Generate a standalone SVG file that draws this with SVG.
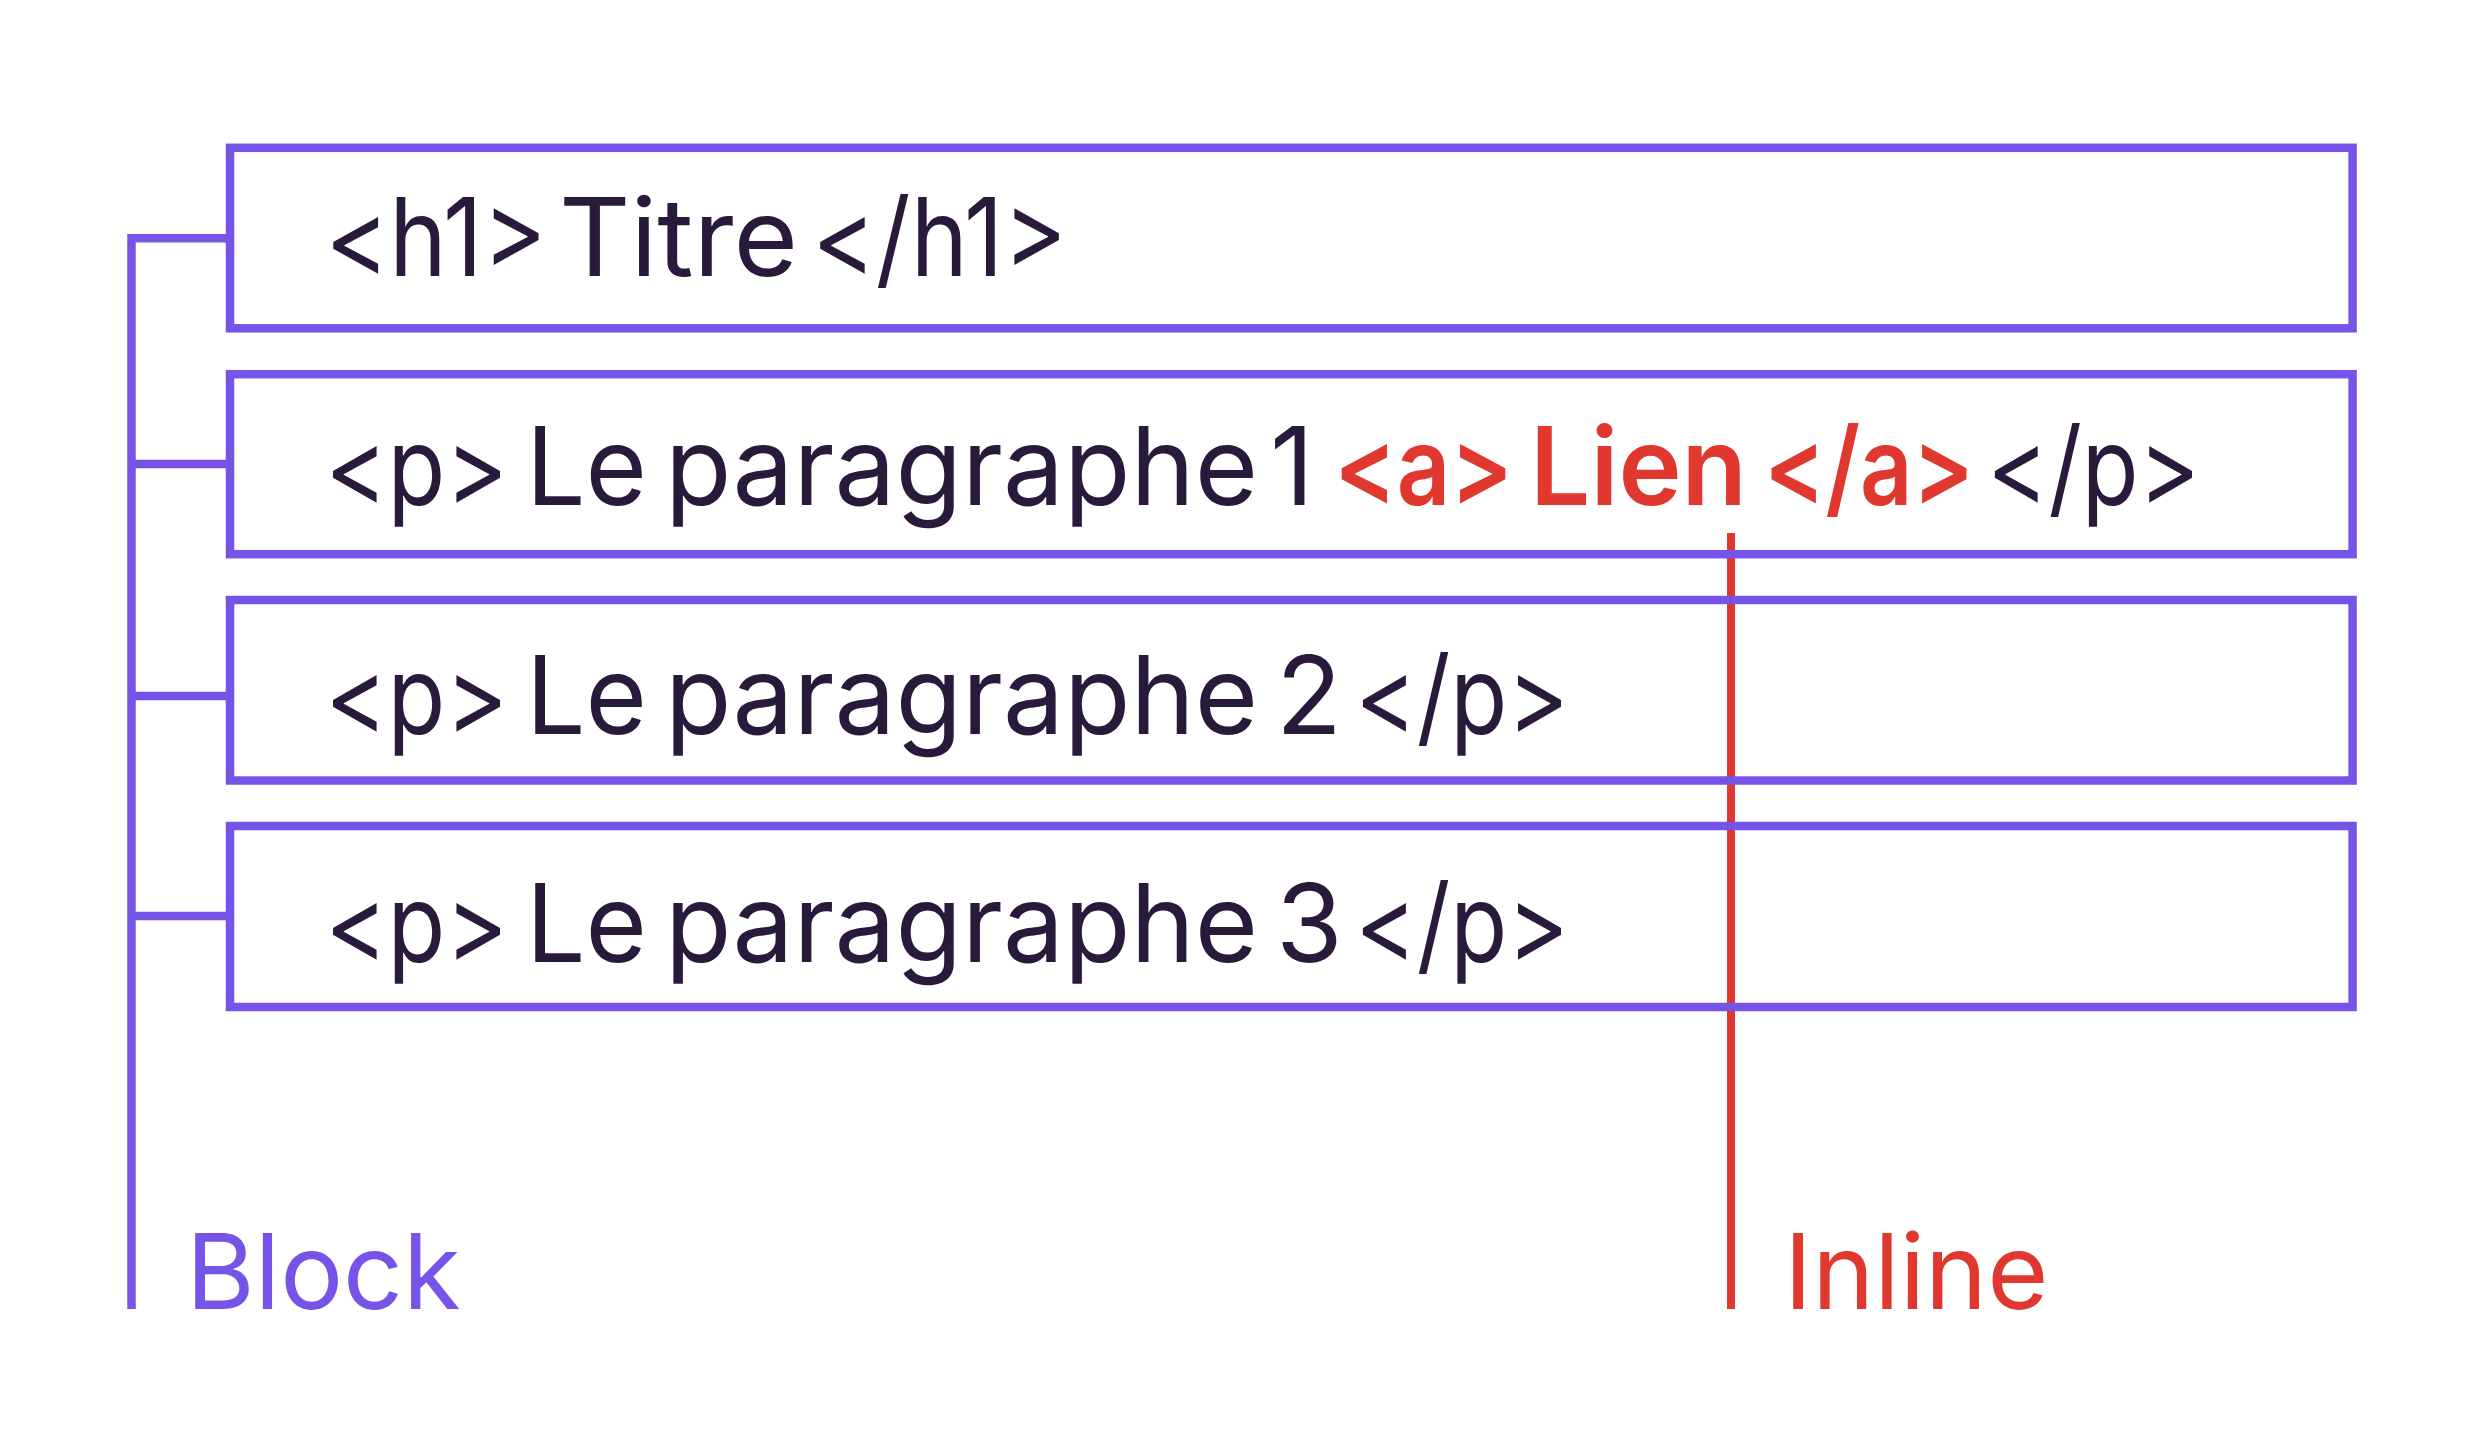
<svg xmlns="http://www.w3.org/2000/svg" width="2484" height="1431" viewBox="0 0 2484 1431">
<style>
.box{fill:none;stroke:#7654E8;stroke-width:8.5}
.conn{stroke:#7654E8;stroke-width:8.5;fill:none}
.connr{stroke:#E0372F;stroke-width:8;fill:none}
.t{font-family:Inter,"Liberation Sans",sans-serif;font-size:108px;fill:#29193A;word-spacing:-28px}
.r{fill:#E0372F;font-weight:600}
.lab{font-family:Inter,"Liberation Sans",sans-serif;font-size:105px}
</style>
<rect width="2484" height="1431" fill="#fff"/>
<g id="connectors">
<path class="conn" d="M131.5 234V1309"/>
<path class="conn" d="M131.5 238.3H230M131.5 464H230M131.5 696H230M131.5 916H230"/>
<path class="connr" d="M1731 533V1309"/>
</g>
<g id="h1">
<rect class="box" x="230" y="147.8" width="2122.6" height="180.5"/>
<text class="t" y="276"><tspan x="325" textLength="222" lengthAdjust="spacingAndGlyphs">&lt;h1&gt;</tspan> <tspan x="559" textLength="239" lengthAdjust="spacingAndGlyphs">Titre</tspan> <tspan x="812" textLength="255" lengthAdjust="spacingAndGlyphs">&lt;/h1&gt;</tspan></text>
</g>
<g id="p1">
<rect class="box" x="230" y="374.2" width="2122.6" height="180"/>
<text class="t" y="505"><tspan x="325" textLength="183" lengthAdjust="spacingAndGlyphs">&lt;p&gt;</tspan> <tspan x="526" textLength="121" lengthAdjust="spacingAndGlyphs">Le</tspan> <tspan x="665" textLength="593" lengthAdjust="spacingAndGlyphs">paragraphe</tspan> <tspan x="1270">1</tspan></text>
<text class="t r" y="505"><tspan x="1334" textLength="179" lengthAdjust="spacingAndGlyphs">&lt;a&gt;</tspan> <tspan x="1530" textLength="217" lengthAdjust="spacingAndGlyphs">Lien</tspan> <tspan x="1764" textLength="210" lengthAdjust="spacingAndGlyphs">&lt;/a&gt;</tspan></text>
<text class="t" x="1987" y="505" textLength="213" lengthAdjust="spacingAndGlyphs">&lt;/p&gt;</text>
</g>
<g id="p2">
<rect class="box" x="230" y="600" width="2122.6" height="180.5"/>
<text class="t" y="733.5"><tspan x="325" textLength="183" lengthAdjust="spacingAndGlyphs">&lt;p&gt;</tspan> <tspan x="526" textLength="121" lengthAdjust="spacingAndGlyphs">Le</tspan> <tspan x="665" textLength="593" lengthAdjust="spacingAndGlyphs">paragraphe</tspan> <tspan x="1276">2</tspan> <tspan x="1355" textLength="214" lengthAdjust="spacingAndGlyphs">&lt;/p&gt;</tspan></text>
</g>
<g id="p3">
<rect class="box" x="230" y="826" width="2122.6" height="181"/>
<text class="t" y="961.5"><tspan x="325" textLength="183" lengthAdjust="spacingAndGlyphs">&lt;p&gt;</tspan> <tspan x="526" textLength="121" lengthAdjust="spacingAndGlyphs">Le</tspan> <tspan x="665" textLength="593" lengthAdjust="spacingAndGlyphs">paragraphe</tspan> <tspan x="1276">3</tspan> <tspan x="1355" textLength="214" lengthAdjust="spacingAndGlyphs">&lt;/p&gt;</tspan></text>
</g>
<g id="block-label">
<text class="lab" x="186" y="1309" fill="#7654E8">Block</text>
</g>
<g id="inline-label">
<text class="lab" x="1784" y="1309" fill="#E0372F">Inline</text>
</g>
</svg>
